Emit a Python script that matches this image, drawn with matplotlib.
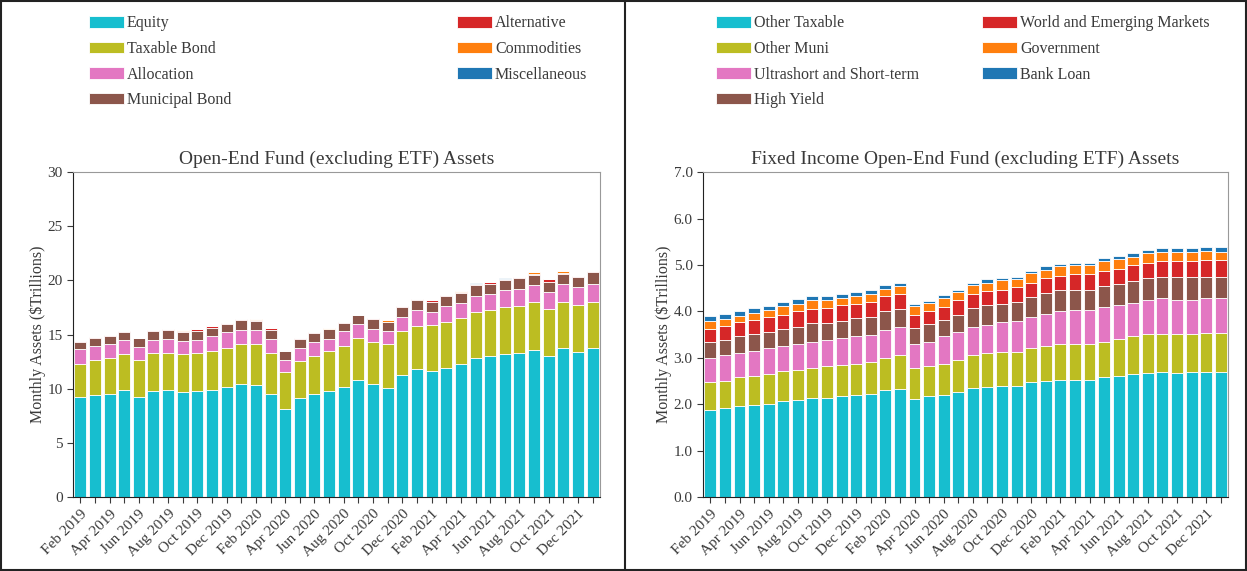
import numpy as np
import pandas as pd
import matplotlib
matplotlib.use('Agg')
import matplotlib.pyplot as plt
from matplotlib.lines import Line2D
from matplotlib.patches import Rectangle

plt.rcParams['font.family'] = ['Liberation Serif', 'DejaVu Serif']
plt.rcParams['text.color'] = '#3a3a3a'
plt.rcParams['axes.labelcolor'] = '#3a3a3a'
plt.rcParams['xtick.color'] = '#3a3a3a'
plt.rcParams['ytick.color'] = '#3a3a3a'

# months Feb 2019 .. Jan 2022
months = pd.date_range('2019-02-01', periods=36, freq='MS').strftime('%b %Y').tolist()

# Open-end fund assets ($ trillions) by category
equity = [9.2, 9.45, 9.55, 9.9, 9.2, 9.75, 9.9, 9.65, 9.75, 9.9, 10.2, 10.45,
          10.3, 9.55, 8.1, 9.1, 9.55, 9.75, 10.2, 10.8, 10.45, 10.1, 11.3, 11.8,
          11.65, 11.95, 12.3, 12.85, 13.0, 13.2, 13.3, 13.6, 13.0, 13.75, 13.35, 13.75]
taxable_bond = [3.1, 3.2, 3.3, 3.3, 3.45, 3.55, 3.4, 3.55, 3.55, 3.6, 3.55, 3.65,
                3.8, 3.75, 3.45, 3.45, 3.5, 3.7, 3.75, 3.85, 3.85, 4.0, 4.0, 4.0,
                4.2, 4.2, 4.2, 4.2, 4.25, 4.35, 4.35, 4.45, 4.4, 4.3, 4.4, 4.3]
allocation = [1.35, 1.3, 1.25, 1.3, 1.2, 1.2, 1.3, 1.2, 1.2, 1.35, 1.45, 1.3,
              1.3, 1.3, 1.1, 1.2, 1.25, 1.15, 1.35, 1.3, 1.2, 1.2, 1.3, 1.45,
              1.25, 1.45, 1.4, 1.55, 1.45, 1.55, 1.6, 1.55, 1.5, 1.6, 1.6, 1.6]
municipal_bond = [0.65, 0.7, 0.8, 0.7, 0.8, 0.8, 0.85, 0.85, 0.85, 0.8, 0.8, 0.9,
                  0.85, 0.85, 0.8, 0.8, 0.85, 0.9, 0.8, 0.85, 0.9, 0.85, 0.95, 0.95,
                  0.95, 0.95, 0.95, 0.95, 1.0, 0.95, 0.95, 0.9, 0.95, 0.95, 0.95, 1.1]
alternative = [0.1, 0.1, 0.05, 0.1, 0.05, 0.1, 0.05, 0.12, 0.12, 0.1, 0.05, 0.1,
               0.05, 0.12, 0.05, 0.1, 0.05, 0.04, 0.1, 0.05, 0.1, 0.05, 0.1, 0.1,
               0.1, 0.1, 0.12, 0.1, 0.12, 0.08, 0.08, 0.12, 0.25, 0.12, 0.08, 0.08]
commodities = [0.0, 0.0, 0.0, 0.0, 0.0, 0.0, 0.0, 0.08, 0.03, 0.0, 0.0, 0.0,
               0.1, 0.08, 0.0, 0.0, 0.0, 0.06, 0.0, 0.0, 0.0, 0.1, 0.0, 0.0,
               0.0, 0.0, 0.03, 0.0, 0.0, 0.0, 0.0, 0.13, 0.0, 0.13, 0.02, 0.02]
miscellaneous = [0.0, 0.0, 0.0, 0.0, 0.0, 0.0, 0.0, 0.0, 0.0, 0.0, 0.0, 0.0,
                 0.0, 0.0, 0.0, 0.0, 0.0, 0.0, 0.0, 0.0, 0.0, 0.0, 0.0, 0.0,
                 0.0, 0.0, 0.0, 0.1, 0.03, 0.07, 0.02, 0.0, 0.0, 0.0, 0.0, 0.0]

# Fixed income open-end fund assets ($ trillions)
other_taxable = [1.885, 1.91, 1.96, 1.99, 2.01, 2.06, 2.09, 2.14, 2.14, 2.17, 2.19, 2.22,
                 2.30, 2.32, 2.12, 2.17, 2.19, 2.27, 2.35, 2.38, 2.40, 2.40, 2.48, 2.50,
                 2.53, 2.53, 2.53, 2.58, 2.61, 2.66, 2.68, 2.70, 2.68, 2.70, 2.70, 2.70]
other_muni = [0.585, 0.59, 0.62, 0.62, 0.65, 0.65, 0.65, 0.65, 0.68, 0.67, 0.68, 0.68,
              0.70, 0.73, 0.65, 0.65, 0.68, 0.68, 0.70, 0.72, 0.72, 0.72, 0.72, 0.75,
              0.77, 0.77, 0.77, 0.77, 0.80, 0.80, 0.83, 0.81, 0.83, 0.81, 0.83, 0.83]
ultrashort = [0.52, 0.55, 0.52, 0.54, 0.54, 0.54, 0.56, 0.56, 0.56, 0.59, 0.59, 0.58,
              0.59, 0.61, 0.53, 0.53, 0.59, 0.61, 0.61, 0.61, 0.64, 0.67, 0.67, 0.70,
              0.70, 0.73, 0.73, 0.75, 0.72, 0.72, 0.74, 0.77, 0.74, 0.74, 0.75, 0.75]
high_yield = [0.34, 0.33, 0.36, 0.36, 0.36, 0.36, 0.37, 0.39, 0.36, 0.37, 0.39, 0.39,
              0.41, 0.40, 0.34, 0.37, 0.36, 0.36, 0.42, 0.42, 0.40, 0.41, 0.44, 0.44,
              0.46, 0.43, 0.43, 0.44, 0.46, 0.47, 0.47, 0.47, 0.50, 0.50, 0.47, 0.47]
world_emerging = [0.30, 0.31, 0.30, 0.30, 0.31, 0.31, 0.33, 0.31, 0.34, 0.33, 0.31, 0.34,
                  0.32, 0.31, 0.28, 0.28, 0.28, 0.32, 0.29, 0.31, 0.31, 0.32, 0.31, 0.33,
                  0.31, 0.34, 0.34, 0.33, 0.33, 0.35, 0.33, 0.33, 0.33, 0.33, 0.35, 0.35]
government = [0.16, 0.15, 0.15, 0.16, 0.15, 0.19, 0.16, 0.19, 0.16, 0.16, 0.16, 0.16,
              0.17, 0.17, 0.19, 0.19, 0.19, 0.17, 0.20, 0.18, 0.20, 0.18, 0.20, 0.18,
              0.21, 0.20, 0.20, 0.21, 0.21, 0.18, 0.21, 0.20, 0.20, 0.20, 0.21, 0.18]
bank_loan = [0.10, 0.10, 0.10, 0.10, 0.10, 0.10, 0.10, 0.08, 0.10, 0.08, 0.10, 0.10,
             0.08, 0.08, 0.05, 0.04, 0.07, 0.05, 0.04, 0.07, 0.05, 0.04, 0.05, 0.07,
             0.05, 0.05, 0.05, 0.07, 0.07, 0.08, 0.07, 0.08, 0.08, 0.08, 0.07, 0.10]

colors = ['#17becf', '#bcbd22', '#e377c2', '#8c564b', '#d62728', '#ff7f0e', '#1f77b4']

left_series = [('Equity', equity), ('Taxable Bond', taxable_bond), ('Allocation', allocation),
               ('Municipal Bond', municipal_bond), ('Alternative', alternative),
               ('Commodities', commodities), ('Miscellaneous', miscellaneous)]
right_series = [('Other Taxable', other_taxable), ('Other Muni', other_muni),
                ('Ultrashort and Short-term', ultrashort), ('High Yield', high_yield),
                ('World and Emerging Markets', world_emerging), ('Government', government),
                ('Bank Loan', bank_loan)]


def stacked(ax, series, title, ylim, yticks, fmt):
    x = np.arange(len(months))
    bottom = np.zeros(len(months))
    handles = []
    for (name, vals), c in zip(series, colors):
        vals = np.array(vals)
        b = ax.bar(x, vals, bottom=bottom, width=0.82, color=c, edgecolor='white',
                   linewidth=0.6, label=name)
        handles.append(b)
        bottom += vals
    ax.set_xlim(-0.5, len(months) - 0.5)
    ax.set_ylim(*ylim)
    ax.set_yticks(yticks)
    ax.set_yticklabels([fmt.format(t) for t in yticks], fontsize=11)
    ax.set_xticks(x)
    ax.set_xticklabels([m if i % 2 == 0 else '' for i, m in enumerate(months)],
                       rotation=45, ha='right', rotation_mode='anchor', fontsize=11)
    ax.set_ylabel('Monthly Assets ($Trillions)', fontsize=11.5, labelpad=1)
    ax.set_title(title, fontsize=14, pad=6)
    for s in ['left', 'bottom']:
        ax.spines[s].set_color('#222222')
    for s in ['top', 'right']:
        ax.spines[s].set_color('#999999')
    ax.tick_params(length=4)
    return handles


fig = plt.figure(figsize=(12.47, 5.71), dpi=100)
ax1 = fig.add_axes([0.0585, 0.1296, 0.4226, 0.569])
ax2 = fig.add_axes([0.5638, 0.1296, 0.421, 0.569])

h1 = stacked(ax1, left_series, 'Open-End Fund (excluding ETF) Assets',
             (0, 30), [0, 5, 10, 15, 20, 25, 30], '{:g}')
h2 = stacked(ax2, right_series, 'Fixed Income Open-End Fund (excluding ETF) Assets',
             (0, 7), [0, 1, 2, 3, 4, 5, 6, 7], '{:.1f}')

leg_kw = dict(ncol=2, mode='expand', frameon=False, fontsize=11.5, loc='upper left',
              handlelength=2.2, handleheight=0.75, handletextpad=0.2,
              labelspacing=0.6, borderpad=0, borderaxespad=0)
fig.legend(h1, [n for n, _ in left_series], bbox_to_anchor=(0.071, 0.5, 0.40, 0.473), **leg_kw)
fig.legend(h2, [n for n, _ in right_series], bbox_to_anchor=(0.574, 0.5, 0.396, 0.473), **leg_kw)

# panel frames
fig.add_artist(Rectangle((0.001, 0.002), 0.998, 0.996, transform=fig.transFigure,
                         fill=False, edgecolor='#222222', linewidth=1.5))
fig.add_artist(Line2D([625 / 1247, 625 / 1247], [0, 1], transform=fig.transFigure,
                      color='#222222', linewidth=1.5))

fig.savefig('out.png', dpi=100)
